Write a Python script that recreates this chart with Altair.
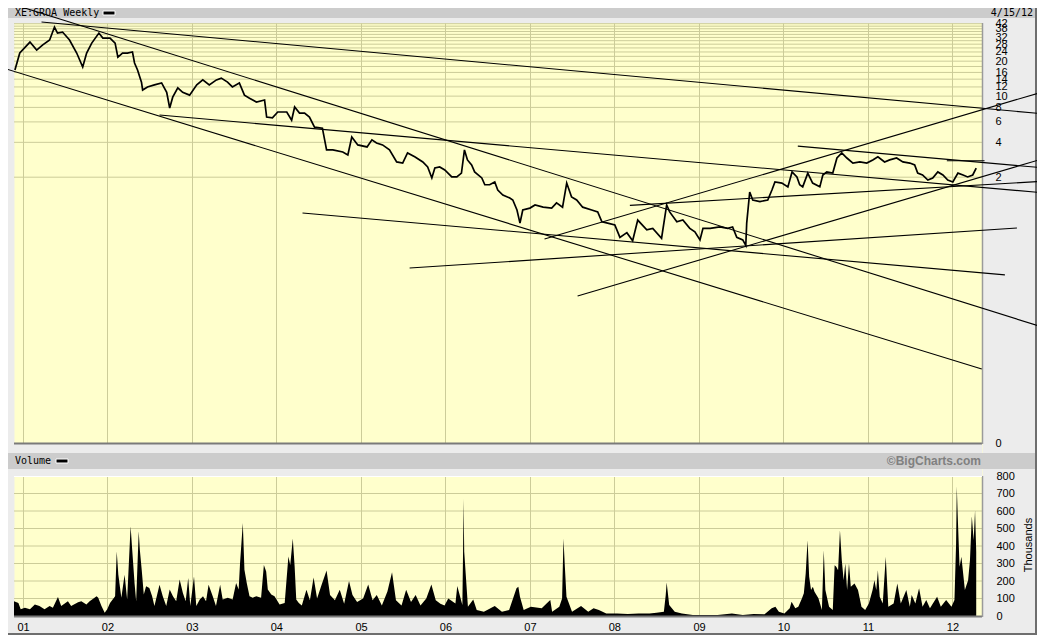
import altair as alt
import pandas as pd

# ---------------- data ----------------
price_dates = [
    "2000-11-27", "2000-12-18", "2001-01-31", "2001-03-01", "2001-03-26", "2001-04-26", "2001-05-17", "2001-05-30",
    "2001-06-21", "2001-07-21", "2001-08-21", "2001-09-16", "2001-10-03", "2001-10-25", "2001-11-25", "2001-12-12",
    "2002-01-12", "2002-02-03", "2002-02-15", "2002-03-07", "2002-03-28", "2002-04-19", "2002-04-28", "2002-05-11",
    "2002-05-28", "2002-06-02", "2002-06-23", "2002-07-23", "2002-08-23", "2002-09-14", "2002-09-27", "2002-10-10",
    "2002-11-01", "2002-11-22", "2002-12-22", "2003-01-22", "2003-02-17", "2003-03-17", "2003-04-17", "2003-05-08",
    "2003-06-04", "2003-06-25", "2003-07-25", "2003-08-16", "2003-09-07", "2003-10-07", "2003-11-11", "2003-11-20",
    "2003-12-15", "2004-01-07", "2004-02-15", "2004-03-07", "2004-03-20", "2004-04-10", "2004-05-02", "2004-05-23",
    "2004-06-14", "2004-07-18", "2004-08-05", "2004-09-01", "2004-10-14", "2004-11-05", "2004-11-22", "2004-12-18",
    "2005-01-27", "2005-02-17", "2005-03-09", "2005-04-04", "2005-05-04", "2005-06-04", "2005-06-30", "2005-07-21",
    "2005-08-21", "2005-09-25", "2005-10-16", "2005-11-03", "2005-11-16", "2005-12-07", "2005-12-29", "2006-01-28",
    "2006-02-19", "2006-03-11", "2006-03-24", "2006-04-06", "2006-04-24", "2006-05-07", "2006-06-07", "2006-06-20",
    "2006-07-11", "2006-08-02", "2006-08-15", "2006-09-06", "2006-10-06", "2006-10-19", "2006-11-06", "2006-11-19",
    "2006-12-01", "2007-01-01", "2007-01-23", "2007-02-27", "2007-04-05", "2007-04-26", "2007-05-22", "2007-06-09",
    "2007-06-30", "2007-07-22", "2007-08-17", "2007-09-25", "2007-10-21", "2007-11-08", "2007-12-03", "2008-01-03",
    "2008-01-25", "2008-02-24", "2008-03-20", "2008-04-11", "2008-05-20", "2008-06-15", "2008-07-23", "2008-08-14",
    "2008-08-27", "2008-09-27", "2008-10-23", "2008-11-22", "2008-12-14", "2009-01-05", "2009-01-18", "2009-02-18",
    "2009-04-01", "2009-05-05", "2009-05-26", "2009-06-13", "2009-07-09", "2009-07-22", "2009-07-26", "2009-08-08",
    "2009-08-21", "2009-09-21", "2009-10-25", "2009-11-12", "2009-11-25", "2009-12-25", "2010-01-20", "2010-02-07",
    "2010-02-28", "2010-03-12", "2010-03-25", "2010-04-16", "2010-05-07", "2010-06-07", "2010-06-20", "2010-07-07",
    "2010-08-02", "2010-08-20", "2010-09-10", "2010-10-02", "2010-10-28", "2010-11-27", "2010-12-27", "2011-01-22",
    "2011-02-13", "2011-03-14", "2011-04-05", "2011-05-05", "2011-06-01", "2011-07-01", "2011-07-22", "2011-08-04",
    "2011-08-25", "2011-09-17", "2011-10-08", "2011-10-30", "2011-11-21", "2011-12-12", "2012-01-03", "2012-01-25",
    "2012-02-16", "2012-03-07", "2012-03-29", "2012-04-13",
]
price_close = [
    16.8, 23.5, 29.2, 24.9, 27.5, 30.4, 39.3, 34.9,
    35.6, 30.4, 23.5, 17.8, 23.5, 28.6, 34.9, 31.6,
    31.6, 28.6, 21.7, 23.5, 23.5, 24.0, 19.3, 16.8,
    13.2, 11.3, 12.0, 12.5, 13.0, 10.8, 7.9, 9.8,
    11.8, 10.8, 10.2, 12.5, 13.8, 12.5, 13.8, 14.3,
    13.2, 12.0, 13.0, 10.2, 9.6, 8.9, 9.26, 6.6,
    6.5, 7.3, 7.3, 6.2, 8.06, 7.15, 7.15, 6.6,
    5.4, 5.3, 3.44, 3.44, 3.3, 3.11, 4.45, 3.8,
    3.65, 4.2, 3.95, 3.8, 3.44, 2.71, 2.65, 3.24,
    3.0, 2.71, 2.45, 1.97, 2.40, 2.45, 2.31, 2.01,
    2.01, 2.17, 3.44, 2.82, 2.55, 2.22, 1.97, 1.72,
    1.72, 1.82, 1.55, 1.40, 1.32, 1.27, 1.04, 0.80,
    1.04, 1.08, 1.15, 1.10, 1.08, 1.20, 1.10, 1.78,
    1.35, 1.27, 1.10, 1.04, 1.00, 0.82, 0.80, 0.77,
    0.60, 0.66, 0.56, 0.85, 0.70, 0.72, 0.59, 1.15,
    1.00, 0.82, 0.85, 0.72, 0.67, 0.57, 0.72, 0.72,
    0.74, 0.72, 0.74, 0.60, 0.57, 0.51, 0.80, 1.49,
    1.27, 1.23, 1.27, 1.55, 1.82, 1.78, 1.65, 2.22,
    2.01, 1.72, 1.65, 2.17, 1.78, 1.65, 2.09, 2.22,
    2.17, 2.93, 3.24, 2.93, 2.65, 2.71, 2.65, 2.82,
    3.0, 2.71, 2.82, 2.93, 2.71, 2.65, 2.55, 2.17,
    2.09, 1.89, 1.97, 2.22, 2.09, 1.89, 1.82, 2.17,
    2.09, 2.01, 2.09, 2.40,
]

vol_dates = [
    "2000-11-23", "2000-12-12", "2000-12-22", "2001-01-09", "2001-01-31", "2001-02-21", "2001-03-13", "2001-04-04",
    "2001-04-26", "2001-05-10", "2001-06-01", "2001-06-15", "2001-07-14", "2001-07-28", "2001-08-27", "2001-09-10",
    "2001-10-02", "2001-10-16", "2001-11-15", "2001-11-22", "2001-12-06", "2001-12-20", "2001-12-31",
    "2002-01-12", "2002-02-03", "2002-02-10", "2002-02-17", "2002-03-02", "2002-03-16", "2002-03-27", "2002-04-11",
    "2002-04-18", "2002-04-28", "2002-05-05", "2002-05-16", "2002-05-21", "2002-05-29", "2002-06-07", "2002-06-17",
    "2002-07-01", "2002-07-13", "2002-07-23", "2002-08-14", "2002-08-28", "2002-09-12", "2002-09-27", "2002-10-11",
    "2002-10-25", "2002-11-09", "2002-11-23", "2002-12-05", "2002-12-16", "2002-12-25",
    "2003-01-10", "2003-01-20", "2003-02-04", "2003-02-18", "2003-03-03", "2003-03-14", "2003-04-01", "2003-04-15",
    "2003-05-03", "2003-05-14", "2003-06-05", "2003-06-26", "2003-07-11", "2003-07-22", "2003-07-28", "2003-08-09",
    "2003-08-16", "2003-08-26", "2003-09-07", "2003-09-21", "2003-10-06", "2003-10-27", "2003-11-08", "2003-11-18",
    "2003-11-25", "2003-12-10", "2003-12-24",
    "2004-01-15", "2004-02-06", "2004-02-22", "2004-03-01", "2004-03-12", "2004-03-20", "2004-03-27", "2004-04-07",
    "2004-04-20", "2004-05-10", "2004-05-25", "2004-06-10", "2004-06-25", "2004-07-15", "2004-08-05", "2004-08-20",
    "2004-09-10", "2004-10-01", "2004-10-20", "2004-11-10", "2004-11-25", "2004-12-15",
    "2005-01-10", "2005-02-01", "2005-02-20", "2005-03-10", "2005-04-01", "2005-04-25", "2005-05-15", "2005-06-01",
    "2005-06-25", "2005-07-15", "2005-08-05", "2005-08-25", "2005-09-15", "2005-10-10", "2005-11-01", "2005-11-20",
    "2005-12-10", "2005-12-28",
    "2006-01-13", "2006-02-13", "2006-02-21", "2006-03-15", "2006-03-18", "2006-03-20", "2006-03-23", "2006-04-08",
    "2006-05-01", "2006-05-16", "2006-06-16", "2006-08-02", "2006-09-02", "2006-10-03", "2006-11-04", "2006-11-12",
    "2006-11-19", "2006-12-05",
    "2007-01-05", "2007-02-21", "2007-03-14", "2007-03-30", "2007-04-07", "2007-05-08", "2007-05-20", "2007-05-26",
    "2007-06-01", "2007-06-08", "2007-07-02", "2007-08-10", "2007-09-10", "2007-10-03", "2007-10-26", "2007-11-27",
    "2008-01-13", "2008-02-28", "2008-04-15", "2008-06-01", "2008-07-01", "2008-08-02", "2008-08-10", "2008-08-14",
    "2008-08-25", "2008-09-18", "2008-10-19", "2008-12-05",
    "2009-03-22", "2009-05-23", "2009-07-09", "2009-08-25", "2009-10-11", "2009-11-11", "2009-11-27", "2009-12-12",
    "2010-01-05", "2010-01-28", "2010-02-05", "2010-02-21", "2010-03-06", "2010-03-22", "2010-03-30", "2010-04-07",
    "2010-04-15", "2010-04-22", "2010-04-30", "2010-05-08", "2010-05-15", "2010-06-01", "2010-06-16", "2010-06-24",
    "2010-07-01", "2010-07-17", "2010-08-02", "2010-08-10", "2010-08-17", "2010-08-25", "2010-09-02", "2010-09-10",
    "2010-09-18", "2010-09-25", "2010-10-03", "2010-10-11", "2010-10-19", "2010-11-04", "2010-11-19", "2010-12-04",
    "2010-12-20",
    "2011-01-05", "2011-01-21", "2011-01-29", "2011-02-06", "2011-02-13", "2011-02-21", "2011-03-06", "2011-03-19",
    "2011-03-30", "2011-04-22", "2011-05-08", "2011-05-23", "2011-06-16", "2011-07-01", "2011-07-09", "2011-07-25",
    "2011-08-10", "2011-08-25", "2011-09-10", "2011-09-26", "2011-10-27", "2011-11-12", "2011-12-05", "2011-12-28",
    "2012-01-10", "2012-01-17", "2012-01-20", "2012-01-24", "2012-02-01", "2012-02-09", "2012-02-24", "2012-03-09",
    "2012-03-17", "2012-03-25", "2012-04-02", "2012-04-08", "2012-04-13",
]
vol_thousands = [
    85, 75, 38, 47, 38, 66, 57, 38,
    57, 47, 108, 57, 85, 57, 79, 85,
    66, 85, 113, 104, 57, 19, 38,
    75, 113, 368, 236, 104, 236, 94, 513,
    377, 189, 85, 485, 377, 264, 123, 170,
    160, 113, 57, 179, 113, 57, 151, 113,
    85, 208, 132, 85, 217, 57,
    226, 57, 94, 113, 85, 179, 113, 57,
    179, 94, 104, 94, 189, 151, 302, 532,
    264, 189, 113, 104, 113, 104, 292, 255,
    151, 123, 113,
    66, 75, 340, 292, 443, 283, 94, 75,
    60, 150, 90, 220, 100, 180, 260, 120,
    90, 150, 70, 200, 120, 80,
    100, 180, 90, 120, 60, 140, 250, 90,
    60, 150, 80, 120, 60, 100, 180, 90,
    70, 60,
    100, 72, 171, 63, 370, 670, 367, 53,
    95, 34, 25, 57, 25, 34, 158, 167,
    110, 34,
    53, 44, 72, 91, 25, 53, 100, 443,
    281, 110, 25, 57, 25, 44, 34, 15,
    15, 11, 15, 15, 19, 25, 120, 192,
    63, 25, 15, 6,
    6, 15, 6, 11, 10, 44, 53, 25,
    15, 44, 82, 44, 53, 101, 130, 243,
    433, 224, 148, 167, 139, 101, 34, 376,
    148, 53, 34, 290, 281, 262, 490, 319,
    205, 300, 148, 300, 167, 186, 148, 53,
    34,
    72, 148, 205, 148, 262, 110, 72, 338,
    53, 72, 186, 72, 148, 53, 120, 72,
    158, 53, 91, 44, 110, 53, 91, 53,
    91, 414, 741, 576, 281, 338, 148, 205,
    319, 570, 433, 604, 367,
]

# hand-drawn trend lines: start/end date and price
trend_start_dates = ["2000-11-23", "2001-03-22", "2000-09-23", "2002-08-14", "2004-04-23", "2005-07-30",
                     "2007-07-26", "2007-03-05", "2010-03-04", "2008-03-08", "2011-12-08"]
trend_start_prices = [61.3, 43.4, 17.8, 6.87, 0.98, 0.322, 0.181, 0.58, 3.71, 1.14, 2.77]
trend_end_dates = ["2013-02-06", "2013-02-06", "2012-05-07", "2013-02-06", "2012-08-15", "2012-10-06",
                   "2013-02-06", "2013-02-06", "2013-02-06", "2013-02-06", "2012-05-19"]
trend_end_prices = [0.091, 7.01, 0.0346, 1.46, 0.28, 0.724, 2.93, 11.05, 2.40, 1.85, 2.77]

price_label_values = [0, 2, 4, 6, 8, 10, 12, 14, 16, 20, 24, 28, 32, 38, 42]
price_grid_values = [2, 4, 6, 8, 10, 12, 14, 16, 18, 20, 22, 24, 26, 28, 30, 32, 34, 36, 38, 40, 42]
vol_label_values = [0, 100, 200, 300, 400, 500, 600, 700, 800]
vol_grid_values = [100, 200, 300, 400, 500, 600, 700, 800]
year_ticks = [2001, 2002, 2003, 2004, 2005, 2006, 2007, 2008, 2009, 2010, 2011, 2012]

# ---------------- styling ----------------
W, H = 968, 593
BG = "#ECECEC"
BAR = "#CCCCCC"
PLOT = "#FFFFCC"
GRID = "#CCCC99"
LABEL_FONT = "Liberation Sans"
MONO = "DejaVu Sans Mono"

price_df = pd.DataFrame({"date": price_dates, "price": price_close})
vol_df = pd.DataFrame({"date": vol_dates, "vol": vol_thousands})
trend_df = pd.DataFrame({"d1": trend_start_dates, "p1": trend_start_prices,
                         "d2": trend_end_dates, "p2": trend_end_prices})
one = pd.DataFrame({"k": [0]})

x_scale = alt.Scale(type="utc",
                    domain=[alt.DateTime(year=2000, month=11, date=23, utc=True),
                            alt.DateTime(year=2012, month=5, date=8, utc=True)],
                    nice=False)
x_axis = alt.Axis(values=[alt.DateTime(year=y, month=1, date=1, utc=True) for y in year_ticks],
                  format="%y", grid=True, gridColor=GRID, gridWidth=1, ticks=False, tickSize=0,
                  domain=False, labelPadding=5, labelFont=LABEL_FONT, labelFontSize=11,
                  labelColor="black", labelFlush=False, title=None)

price_scale = alt.Scale(type="symlog", constant=0.0104, domain=[-0.3094, 42.6], nice=False, zero=False)
vol_scale = alt.Scale(type="linear", domain=[0, 3388.6], nice=False, zero=False)

price_axis = alt.Axis(orient="right", values=price_label_values, grid=False, ticks=False, tickSize=0,
                      domain=False, labelPadding=13, labelFont=LABEL_FONT, labelFontSize=11,
                      labelColor="black", labelOverlap=False, labelAlign="left",
                      labelBaseline="middle", labelFlush=False, title=None)
vol_axis = alt.Axis(orient="right", values=vol_label_values, grid=False, ticks=False, tickSize=0,
                    domain=False, labelPadding=14, labelFont=LABEL_FONT, labelFontSize=11,
                    labelColor="black", labelOverlap=False, labelAlign="left",
                    labelBaseline="middle", labelFlush=False, title=None)


def X(field, axis=True):
    return alt.X(f"{field}:T", scale=x_scale, axis=x_axis if axis else None)


# gridlines (with right axes attached)
price_grid = alt.Chart(pd.DataFrame({"g": price_grid_values})).mark_rule(
    color=GRID, strokeWidth=1).encode(
    y=alt.Y("g:Q", scale=price_scale, axis=price_axis),
    x=alt.value(0), x2=alt.value(W))

vol_grid = alt.Chart(pd.DataFrame({"g": vol_grid_values})).mark_rule(
    color=GRID, strokeWidth=1).encode(
    y=alt.Y("g:Q", scale=vol_scale, axis=vol_axis),
    x=alt.value(0), x2=alt.value(W))

vol_area = alt.Chart(vol_df).mark_area(color="black", interpolate="linear").encode(
    x=X("date"),
    y=alt.Y("vol:Q", scale=vol_scale, axis=None))

# gap band between the panels and its header bar
gap = alt.Chart(one).mark_rect(color=BG).encode(
    x=alt.value(0), x2=alt.value(W), y=alt.value(421), y2=alt.value(453))
vol_bar = alt.Chart(one).mark_rect(color=BAR).encode(
    x=alt.value(-14), x2=alt.value(1031), y=alt.value(430), y2=alt.value(446))
top_bar = alt.Chart(one).mark_rect(color=BAR).encode(
    x=alt.value(-14), x2=alt.value(1031), y=alt.value(-16), y2=alt.value(-5))

# borders
borders = [
    alt.Chart(one).mark_rule(color="#7A7A7A", strokeWidth=2).encode(
        x=alt.value(0), x2=alt.value(W), y=alt.value(420.5)),
    alt.Chart(one).mark_rule(color="#7A7A7A", strokeWidth=2).encode(
        x=alt.value(0), x2=alt.value(W), y=alt.value(593.5)),
    alt.Chart(one).mark_rule(color="#9A9A9A", strokeWidth=1.5).encode(
        x=alt.value(968.5), y=alt.value(0), y2=alt.value(421)),
    alt.Chart(one).mark_rule(color="#9A9A9A", strokeWidth=1.5).encode(
        x=alt.value(968.5), y=alt.value(453), y2=alt.value(594)),
    alt.Chart(one).mark_rule(color="#FFFFFF", strokeWidth=1).encode(
        x=alt.value(0), x2=alt.value(W), y=alt.value(453.5)),
    alt.Chart(one).mark_rule(color="#6E6E6E", strokeWidth=2).encode(
        x=alt.value(1022), y=alt.value(-16), y2=alt.value(612)),
    alt.Chart(one).mark_rule(color="#6E6E6E", strokeWidth=2).encode(
        x=alt.value(-14), x2=alt.value(1023), y=alt.value(611)),
]

# header texts
texts = [
    alt.Chart(one).mark_text(text="XE:GROA Weekly", font=MONO, fontSize=10, align="left",
                             baseline="middle", color="black").encode(
        x=alt.value(1), y=alt.value(-10)),
    alt.Chart(one).mark_text(text="4/15/12", font=MONO, fontSize=10, align="right",
                             baseline="middle", color="black").encode(
        x=alt.value(1019), y=alt.value(-10)),
    alt.Chart(one).mark_text(text="Volume", font=MONO, fontSize=10, align="left",
                             baseline="middle", color="black").encode(
        x=alt.value(1), y=alt.value(438)),
    alt.Chart(one).mark_text(text="©BigCharts.com", font=LABEL_FONT, fontSize=12, fontWeight="bold",
                             align="right", baseline="middle", color="#808080").encode(
        x=alt.value(967), y=alt.value(438)),
    alt.Chart(one).mark_text(text="Thousands", font=LABEL_FONT, fontSize=11, angle=270,
                             align="center", baseline="middle", color="black").encode(
        x=alt.value(1015), y=alt.value(522)),
]
legend_marks = [
    alt.Chart(one).mark_rect(color="black", stroke="white", strokeWidth=1).encode(
        x=alt.value(89), x2=alt.value(101), y=alt.value(-12), y2=alt.value(-8)),
    alt.Chart(one).mark_rect(color="black", stroke="white", strokeWidth=1).encode(
        x=alt.value(42), x2=alt.value(54), y=alt.value(436), y2=alt.value(440)),
]

trend = alt.Chart(trend_df).mark_rule(color="black", strokeWidth=1.1, clip=False).encode(
    x=X("d1"), x2="d2:T",
    y=alt.Y("p1:Q", scale=price_scale, axis=None), y2="p2:Q")

price_line = alt.Chart(price_df).mark_line(color="black", strokeWidth=1.7).encode(
    x=X("date"),
    y=alt.Y("price:Q", scale=price_scale, axis=None))

layers = [price_grid, vol_grid, vol_area, gap, vol_bar, top_bar] + borders + texts + legend_marks + [trend, price_line]

chart = alt.layer(*layers).resolve_scale(y="independent").properties(
    width=W, height=H,
    autosize=alt.AutoSizeParams(type="none"),
    padding={"left": 6, "top": 15, "right": 55, "bottom": 19},
    background=BG,
).configure_view(fill=PLOT, stroke="transparent")

chart.save("out.html", embed_options={"renderer": "svg", "actions": False})
